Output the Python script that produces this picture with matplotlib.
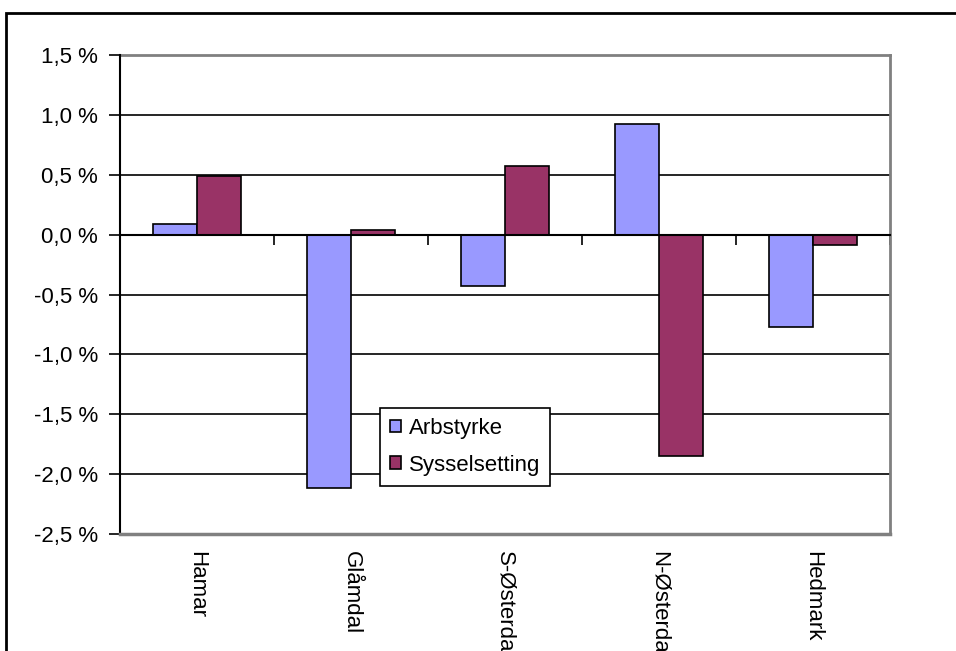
import matplotlib
matplotlib.use("Agg")
import matplotlib.pyplot as plt
from matplotlib.patches import Rectangle, Patch
import numpy as np

categories = ["Hamar", "Glåmdal", "S-Østerdal", "N-Østerdal", "Hedmark"]
arbstyrke = [0.09, -2.12, -0.43, 0.92, -0.77]
sysselsetting = [0.49, 0.04, 0.57, -1.85, -0.09]
yticks = [1.5, 1.0, 0.5, 0.0, -0.5, -1.0, -1.5, -2.0, -2.5]
series_names = ["Arbstyrke", "Sysselsetting"]
colors = ["#9999FF", "#993366"]

plt.rcParams['font.family'] = ['Liberation Sans', 'DejaVu Sans']

W, H = 956, 651
FS = 16
fig = plt.figure(figsize=(W / 100, H / 100), dpi=100)

# outer chart border (extends past right/bottom edges)
fig.patches.append(Rectangle((6 / W, -0.1), 1.2, 1.1 - 13 / H,
                             transform=fig.transFigure, fill=False,
                             edgecolor="black", linewidth=2.0))

ax = fig.add_axes([120 / W, 1 - 534 / H, 770 / W, 479 / H])

x = np.arange(len(categories))
bw = 0.285
ax.bar(x - bw / 2, arbstyrke, bw, color=colors[0], edgecolor="black", linewidth=1.2, zorder=3)
ax.bar(x + bw / 2, sysselsetting, bw, color=colors[1], edgecolor="black", linewidth=1.2, zorder=3)

ax.set_xlim(-0.5, len(categories) - 0.5)
ax.set_ylim(-2.5, 1.5)
ax.set_yticks(yticks)
ax.set_yticklabels([f"{v:.1f} %".replace(".", ",") for v in yticks], fontsize=FS)
ax.tick_params(axis="y", direction="out", length=8, width=1.2, pad=8, color="black")

for v in yticks:
    if v not in (1.5, -2.5, 0.0):
        ax.axhline(v, color="black", linewidth=1.2, zorder=1)

# spines
for s in ["top", "right"]:
    ax.spines[s].set_color("#808080")
    ax.spines[s].set_linewidth(2)
ax.spines["left"].set_color("black")
ax.spines["left"].set_linewidth(1.5)
ax.spines["left"].set_zorder(5)
ax.spines["bottom"].set_position(("data", 0))
ax.spines["bottom"].set_color("black")
ax.spines["bottom"].set_linewidth(1.5)
ax.spines["bottom"].set_zorder(5)
ax.plot([0, 1], [0, 0], transform=ax.transAxes, color="#808080", linewidth=2.5, clip_on=False, zorder=6)

bounds = np.arange(len(categories) + 1) - 0.5
ax.set_xticks(bounds)
ax.set_xticklabels([""] * len(bounds))
ax.tick_params(axis="x", direction="out", length=7, width=1.2, color="black")

trans = ax.get_xaxis_transform()
for i, c in enumerate(categories):
    ax.text(i, -0.035, c, transform=trans, rotation=270, ha="center", va="top",
            fontsize=FS, clip_on=False)

handles = [Patch(facecolor=colors[i], edgecolor="black", linewidth=1.2) for i in range(2)]
leg = fig.legend(handles, series_names, loc="upper left",
                 bbox_to_anchor=(380 / W, 1 - 408 / H), fontsize=FS,
                 handlelength=0.5, handleheight=0.5, handletextpad=0.35,
                 borderpad=0.45, borderaxespad=0, labelspacing=0.7,
                 fancybox=False, framealpha=1, edgecolor="black")
leg.get_frame().set_linewidth(1.2)

fig.savefig("out.png", dpi=100)
